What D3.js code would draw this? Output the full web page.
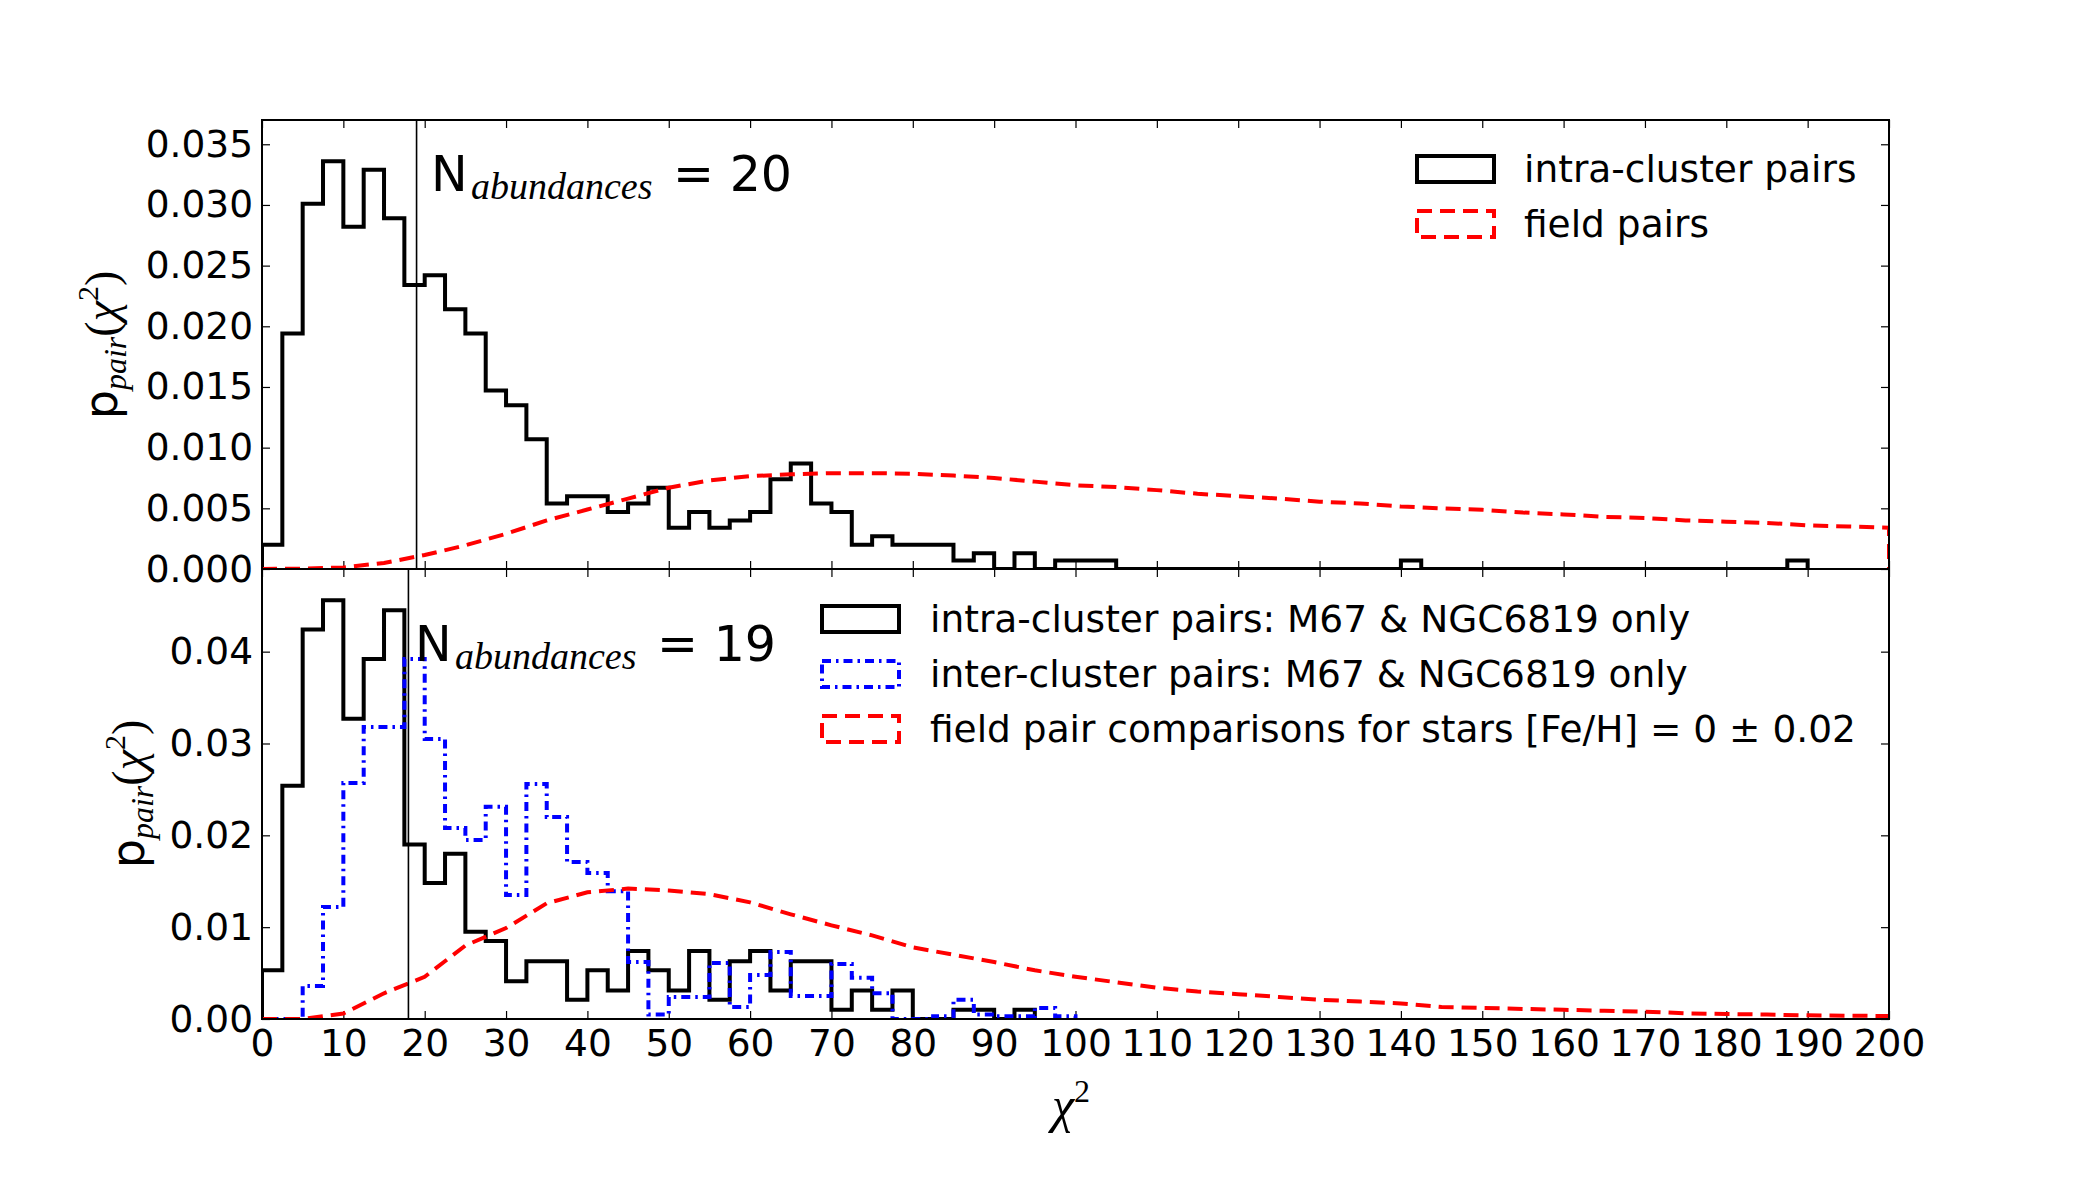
<!DOCTYPE html>
<html>
<head>
<meta charset="utf-8">
<script src="https://cdn.jsdelivr.net/npm/d3@7"></script>
<style>
  body { margin: 0; background: #fff; }
  text { fill: #000; }
</style>
</head>
<body>
<div id="chart"></div>
<script>
// histogram bins are 2.5 wide, starting at chi2 = 0
const binWidth = 2.5;

// top panel: N_abundances = 20
const topIntra = [0.0020, 0.0194, 0.0301, 0.0336, 0.0282, 0.0329, 0.0289, 0.0234, 0.0242, 0.0214,
                  0.0194, 0.0147, 0.0135, 0.0107, 0.0054, 0.0060, 0.0060, 0.0047, 0.0054, 0.0067,
                  0.0034, 0.0047, 0.0034, 0.0040, 0.0047, 0.0074, 0.0087, 0.0054, 0.0047, 0.0020,
                  0.0027, 0.0020, 0.0020, 0.0020, 0.0007, 0.0013, 0, 0.0013, 0, 0.0007,
                  0.0007, 0.0007, 0, 0, 0, 0, 0, 0, 0, 0,
                  0, 0, 0, 0, 0, 0, 0.0007, 0, 0, 0,
                  0, 0, 0, 0, 0, 0, 0, 0, 0, 0,
                  0, 0, 0, 0, 0, 0.0007];

const fieldChi2 = [0, 5, 10, 15, 20, 25, 30, 35, 40, 45, 50, 55, 60, 65, 70, 75, 80, 85, 90, 95, 100,
                   105, 110, 115, 120, 125, 130, 135, 140, 145, 150, 155, 160, 165, 170, 175, 180,
                   185, 190, 195, 200];
const topField = [0, 0.00003, 0.00013, 0.0005, 0.00115, 0.00195, 0.0029, 0.0040, 0.0049, 0.0058,
                  0.0067, 0.0073, 0.00765, 0.0078, 0.0079, 0.0079, 0.00785, 0.0077, 0.0075, 0.0072,
                  0.0069, 0.00675, 0.0065, 0.0062, 0.0060, 0.0058, 0.00555, 0.0054, 0.00515, 0.0050,
                  0.00488, 0.00465, 0.0045, 0.0043, 0.0042, 0.0040, 0.0039, 0.0038, 0.0036, 0.0035,
                  0.0034];

// bottom panel: N_abundances = 19
const botIntra = [0.0053, 0.0254, 0.0424, 0.0456, 0.0327, 0.0392, 0.0445, 0.0190, 0.0148, 0.0180,
                  0.0095, 0.0085, 0.0041, 0.0063, 0.0063, 0.0021, 0.0053, 0.0031, 0.0074, 0.0053,
                  0.0031, 0.0074, 0.0021, 0.0063, 0.0074, 0.0031, 0.0063, 0.0063, 0.0010, 0.0031,
                  0.0010, 0.0031, 0, 0, 0.0010, 0.0010, 0, 0.0010];
const botInter = [0, 0, 0.0036, 0.0122, 0.0257, 0.0318, 0.0318, 0.0392, 0.0305, 0.0208,
                  0.0195, 0.0231, 0.0135, 0.0256, 0.0220, 0.0171, 0.0159, 0.0139, 0.0062, 0.0005,
                  0.0024, 0.0024, 0.0061, 0.0013, 0.0048, 0.0073, 0.0025, 0.0025, 0.0060, 0.0045,
                  0.0028, 0, 0, 0.0003, 0.0021, 0.0005, 0.0003, 0.0003, 0.0012, 0.0003];
const botField = [0, 0, 0.0006, 0.0028, 0.0046, 0.0080, 0.0099, 0.0126, 0.0138, 0.0142,
                  0.0140, 0.0136, 0.0127, 0.0114, 0.0102, 0.0091, 0.0078, 0.0070, 0.0062, 0.0053,
                  0.0046, 0.0040, 0.0034, 0.0030, 0.0027, 0.0024, 0.0021, 0.0019, 0.0017, 0.0013,
                  0.0012, 0.0011, 0.0010, 0.0009, 0.0008, 0.00062, 0.00055, 0.00048, 0.0004, 0.00036,
                  0.00033];

const xTicks = [0, 10, 20, 30, 40, 50, 60, 70, 80, 90, 100, 110, 120, 130, 140, 150, 160, 170, 180, 190, 200];
const topYTicks = [0, 0.005, 0.010, 0.015, 0.020, 0.025, 0.030, 0.035];
const botYTicks = [0, 0.01, 0.02, 0.03, 0.04];

const W = 2100, H = 1200;
const left = 262, right = 1889;
const sans = "'DejaVu Sans', sans-serif";
const serif = "'Liberation Serif', 'DejaVu Serif', serif";

const svg = d3.select("#chart").append("svg")
    .attr("width", W)
    .attr("height", H)
    .style("background", "#fff");

const x = d3.scaleLinear().domain([0, 200]).range([left, right]);

function stepPoints(vals) {
    const pts = [[0, 0]];
    vals.forEach((v, i) => {
        pts.push([i * binWidth, v]);
        pts.push([(i + 1) * binWidth, v]);
    });
    pts.push([vals.length * binWidth, 0]);
    return pts;
}

function panel(id, top, bottom, yMax, yTicks, fmt, showX) {
    const y = d3.scaleLinear().domain([0, yMax]).range([bottom, top]);
    const g = svg.append("g");

    svg.append("clipPath").attr("id", "clip" + id)
       .append("rect")
       .attr("x", left).attr("y", top)
       .attr("width", right - left).attr("height", bottom - top);

    const axisStyle = sel => {
        sel.select(".domain").remove();
        sel.selectAll(".tick line").attr("stroke", "#000").attr("stroke-width", 1.2);
        sel.selectAll("text").style("font-family", sans).style("font-size", "37.5px").attr("fill", "#000");
    };

    g.append("g")
     .attr("transform", `translate(0,${bottom})`)
     .call(d3.axisBottom(x).tickValues(xTicks).tickSize(-8).tickPadding(10)
           .tickFormat(showX ? d3.format("d") : ""))
     .call(axisStyle);
    g.append("g")
     .attr("transform", `translate(0,${top})`)
     .call(d3.axisTop(x).tickValues(xTicks).tickSize(-8).tickFormat(""))
     .call(axisStyle);
    g.append("g")
     .attr("transform", `translate(${left},0)`)
     .call(d3.axisLeft(y).tickValues(yTicks).tickSize(-8).tickPadding(9).tickFormat(d3.format(fmt)))
     .call(axisStyle);
    g.append("g")
     .attr("transform", `translate(${right},0)`)
     .call(d3.axisRight(y).tickValues(yTicks).tickSize(-8).tickFormat(""))
     .call(axisStyle);

    const plot = g.append("g").attr("clip-path", `url(#clip${id})`);
    const line = d3.line().x(d => x(d[0])).y(d => y(d[1]));
    return { y, plot, line, g };
}

function drawHist(p, vals, color, dash) {
    p.plot.append("path")
     .datum(stepPoints(vals))
     .attr("d", p.line)
     .attr("fill", "none")
     .attr("stroke", color)
     .attr("stroke-width", 4)
     .attr("stroke-linejoin", "miter")
     .attr("stroke-dasharray", dash);
}

function drawField(p, vals) {
    const pts = fieldChi2.map((c, i) => [c, vals[i]]);
    pts.push([200, 0]);
    p.plot.append("path")
     .datum(pts)
     .attr("d", p.line)
     .attr("fill", "none")
     .attr("stroke", "#ff0000")
     .attr("stroke-width", 4)
     .attr("stroke-dasharray", "15,8");
}

function vline(p, c, top, bottom) {
    p.plot.append("line")
     .attr("x1", x(c)).attr("x2", x(c))
     .attr("y1", top).attr("y2", bottom)
     .attr("stroke", "#000").attr("stroke-width", 1.6);
}

function spine(top, bottom) {
    svg.append("rect")
       .attr("x", left).attr("y", top)
       .attr("width", right - left).attr("height", bottom - top)
       .attr("fill", "none").attr("stroke", "#000").attr("stroke-width", 2);
}

function legend(items, hx, tx, y0) {
    const lg = svg.append("g");
    items.forEach((it, i) => {
        const cy = y0 + i * 55;
        lg.append("rect")
          .attr("x", hx).attr("y", cy - 13)
          .attr("width", 77).attr("height", 26)
          .attr("fill", "none")
          .attr("stroke", it.color)
          .attr("stroke-width", 4)
          .attr("stroke-dasharray", it.dash);
        lg.append("text")
          .attr("x", tx).attr("y", cy)
          .attr("dominant-baseline", "central")
          .style("font-family", sans).style("font-size", "37.5px")
          .text(it.label);
    });
}

function nLabel(xN, yBase, n) {
    const t = svg.append("text").attr("y", yBase).style("font-family", sans).style("font-size", "49px");
    t.append("tspan").attr("x", xN).text("N");
    t.append("tspan").attr("x", xN + 40).attr("dy", 8)
     .style("font-family", serif).style("font-style", "italic").style("font-size", "38px")
     .text("abundances");
    t.append("tspan").attr("x", xN + 242).attr("dy", -8).text("= " + n);
}

function yLabel(cx, cy) {
    const t = svg.append("text")
        .attr("transform", `translate(${cx},${cy}) rotate(-90)`)
        .attr("text-anchor", "middle")
        .style("font-family", sans).style("font-size", "46px");
    t.append("tspan").text("p");
    t.append("tspan").attr("dy", 9)
     .style("font-family", serif).style("font-style", "italic").style("font-size", "32px").text("pair");
    t.append("tspan").attr("dy", -9).style("font-family", serif).text("(");
    t.append("tspan").style("font-family", serif).style("font-style", "italic").text("χ");
    t.append("tspan").attr("dy", -19).style("font-family", serif).style("font-size", "30px").text("2");
    t.append("tspan").attr("dy", 19).style("font-family", serif).text(")");
}

// top panel
const pTop = panel("top", 120, 569, 0.037, topYTicks, ".3f", false);
drawHist(pTop, topIntra, "#000", null);
drawField(pTop, topField);
vline(pTop, 19, 120, 569);

// bottom panel
const pBot = panel("bot", 569, 1019, 0.049, botYTicks, ".2f", true);
drawHist(pBot, botIntra, "#000", null);
drawHist(pBot, botInter, "#0000ff", "9,5,2.5,5");
drawField(pBot, botField);
vline(pBot, 18, 569, 1019);

spine(120, 569);
spine(569, 1019);

legend([
    { label: "intra-cluster pairs", color: "#000", dash: null },
    { label: "field pairs", color: "#ff0000", dash: "15,8" }
], 1417, 1524, 169);

legend([
    { label: "intra-cluster pairs: M67 & NGC6819 only", color: "#000", dash: null },
    { label: "inter-cluster pairs: M67 & NGC6819 only", color: "#0000ff", dash: "9,5,2.5,5" },
    { label: "field pair comparisons for stars [Fe/H] = 0 ± 0.02", color: "#ff0000", dash: "15,8" }
], 822, 930, 619);

nLabel(431, 191, 20);
nLabel(415, 661, 19);

yLabel(117, 345);
yLabel(144, 794);

// x axis label
const xl = svg.append("text")
    .attr("x", 1071).attr("y", 1122)
    .attr("text-anchor", "middle")
    .style("font-family", serif).style("font-size", "50px");
xl.append("tspan").style("font-style", "italic").text("χ");
xl.append("tspan").attr("dy", -20).style("font-size", "32px").text("2");
</script>
</body>
</html>
